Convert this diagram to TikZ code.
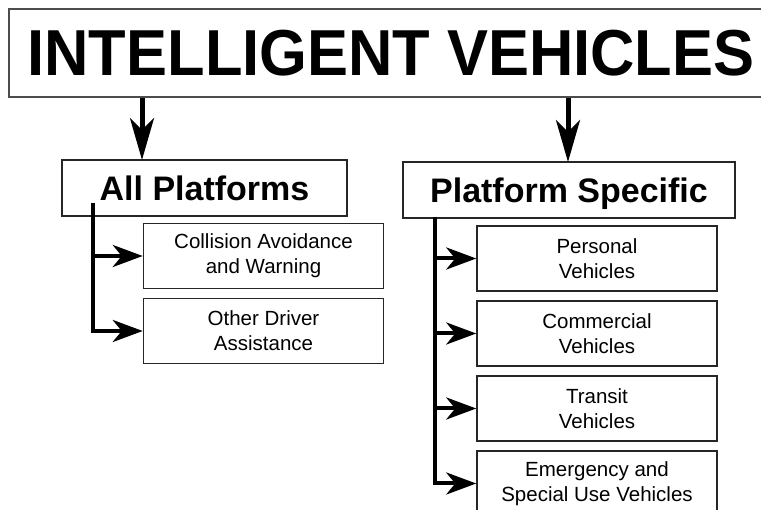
\documentclass[tikz,border=0pt]{standalone}
\usepackage{fontspec}
\setmainfont{Liberation Sans}
\usetikzlibrary{arrows.meta,calc}

\begin{document}
\begin{tikzpicture}[x=1pt,y=-1pt,
    topbox/.style={rectangle,draw=black!70,line width=1.5pt,minimum width=782pt,minimum height=88pt},
    mainbox/.style={rectangle,draw=black!85,line width=1.5pt,minimum height=56pt,text height=24.5pt,text depth=0pt,font=\fontsize{34}{40}\selectfont\bfseries},
    subbox/.style={rectangle,draw=black!85,line width=1.5pt,minimum width=240pt,minimum height=65pt,align=center,font=\fontsize{20.5}{25}\selectfont},
    bigarrow/.style={line width=5pt,-{Stealth[length=42pt,width=24pt,inset=12pt]}},
    branch/.style={line width=4pt,-{Stealth[length=30pt,width=22pt,inset=9pt]}}]
      \useasboundingbox (0,0) rectangle (761,510);
      \clip (0,0) rectangle (761,510);
      % heading
      \node (titlebox) [topbox] at (400,53) {};
      \node (title) [anchor=base,font=\fontsize{65}{70}\selectfont\bfseries] at (391,76) {\scalebox{0.945}[1]{INTELLIGENT VEHICLES}};
      \node (ap) [mainbox,minimum width=285pt] at (204.5,188) {All Platforms};
      \node (ps) [mainbox,minimum width=332pt] at (569,190) {Platform Specific};
      \coordinate (apin) at (142,160);
      \coordinate (psin) at (568,162);
      \draw [bigarrow] (titlebox.south -| apin) -- (apin);
      \draw [bigarrow] (titlebox.south -| psin) -- (psin);
      % all platforms
      \coordinate (apspine) at (93,203);
      \foreach \n/\y/\lbl in {cav/256/{Collision Avoidance\\and Warning},oda/331/{Other Driver\\Assistance}}{
        \node (\n) [subbox] at (263.5,\y) {\lbl};
        \draw [branch] (apspine) |- (\n.west);
      }
      % platform specific
      \coordinate (psspine) at (435,217);
      \foreach \n/\y/\lbl in {pv/258.5/{Personal\\Vehicles},cv/333.5/{Commercial\\Vehicles},tv/408.5/{Transit\\Vehicles},ev/483.5/{Emergency and\\Special Use Vehicles}}{
        \node (\n) [subbox] at (597,\y) {\lbl};
        \draw [branch] (psspine) |- (\n.west);
      }
    \end{tikzpicture}
\end{document}
